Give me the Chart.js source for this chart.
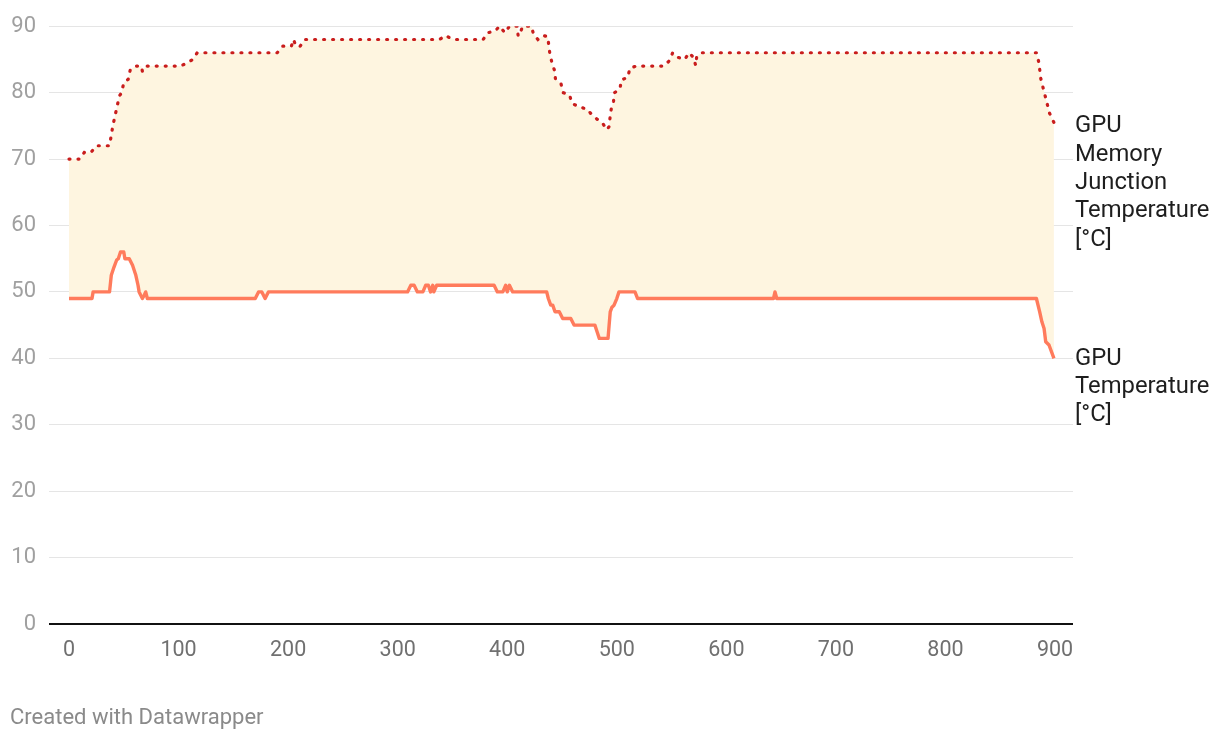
<!DOCTYPE html>
<html>
<head>
<meta charset="utf-8">
<script src="https://cdn.jsdelivr.net/npm/chart.js@4.4.1/dist/chart.umd.min.js"></script>
<style>
  html, body { margin: 0; padding: 0; background: #ffffff; }
  #wrap { position: relative; width: 1220px; height: 740px; }
  #credit { position: absolute; left: 10px; top: 703px; font-family: Roboto, sans-serif; font-size: 22px; line-height: 28px; color: #8a8a8a; }
</style>
</head>
<body>
<div id="wrap">
  <canvas id="c" width="1220" height="740"></canvas>
  <div id="credit">Created with Datawrapper</div>
</div>
<script>
// ---- data ----
const memTime = [0, 10, 14, 20, 25, 35, 37, 40, 42, 44, 46, 48, 50, 54, 56, 61, 66, 67, 70, 102, 108, 113, 117, 190, 195, 203, 205, 207, 211, 215, 338, 344, 347, 352, 378, 382, 389, 393, 398, 402, 409, 410, 412, 414, 422, 424, 428, 433, 437, 438, 439, 441, 443, 444, 449, 451, 457, 459, 465, 473, 477, 482, 487, 491, 493, 494, 495, 497, 498, 503, 504, 510, 512, 518, 543, 548, 551, 556, 562, 566, 570, 572, 573, 578, 883, 885, 886, 887, 889, 891, 893, 895, 899];
const memTemp = [70, 70, 71, 71, 72, 72, 72, 75, 76.5, 78, 79.5, 80, 81.5, 82, 83.5, 84, 84, 83.2, 84, 84, 84.5, 85, 86, 86, 87, 87, 88, 87, 87, 88, 88, 88.6, 88.3, 88, 88, 89, 89.3, 90, 89, 90, 90, 88.5, 89, 90, 90, 88.8, 88, 88.6, 88.4, 87, 85.7, 84.4, 83.4, 82.1, 81.4, 80, 79.6, 78.4, 77.9, 77.5, 76.7, 76, 75.4, 74.4, 74.9, 76.5, 77.6, 78.7, 80, 80.6, 81.9, 82.3, 83.7, 84, 84, 84.8, 86, 85.3, 85, 86, 85.3, 84.1, 85.5, 86, 86, 84.7, 83.5, 82.1, 80.8, 79.5, 78.2, 76.9, 75.5];

const gpuTime = [0, 21, 22, 37, 38.6, 41, 43.5, 45, 47, 50, 51, 55, 58, 61, 63, 64, 67, 68.7, 70, 71.5, 170, 173, 176, 179, 182, 309, 312, 315, 318, 323, 325.6, 328, 330, 332, 333, 335.6, 388, 391, 396, 398.6, 400, 402, 405, 436, 437.5, 439.7, 441.5, 443.6, 447.5, 450.6, 458, 461, 480, 482, 484, 492, 494, 495.6, 497.5, 500, 502, 516.6, 519, 643, 644.4, 646, 883, 886, 888, 890, 891.5, 894.5, 899];
const gpuTemp = [49, 49, 50, 50, 52.5, 53.7, 54.8, 55, 56, 56, 55, 55, 54, 52.5, 51, 50, 49, 49.5, 50, 49, 49, 50, 50, 49, 50, 50, 51, 51, 50, 50, 51, 51, 50, 51, 50, 51, 51, 50, 50, 51, 50, 51, 50, 50, 49, 48, 48, 47, 47, 46, 46, 45, 45, 44, 43, 43, 47, 47.7, 48, 49, 50, 50, 49, 49, 50, 49, 49, 47, 45.5, 44.5, 42.5, 42, 40];

const xTicks = [0, 100, 200, 300, 400, 500, 600, 700, 800, 900];
const yTicks = [0, 10, 20, 30, 40, 50, 60, 70, 80, 90];
const seriesNames = [["GPU", "Memory", "Junction", "Temperature", "[°C]"], ["GPU", "Temperature", "[°C]"]];

const toPts = (xs, ys) => xs.map((x, i) => ({ x: x, y: ys[i] }));

const endLabels = {
  id: 'endLabels',
  afterDatasetsDraw(chart) {
    const ctx = chart.ctx;
    const ys = chart.scales.y;
    ctx.save();
    ctx.font = '23.8px Roboto, sans-serif';
    ctx.fillStyle = '#1e1e1e';
    ctx.textAlign = 'left';
    ctx.textBaseline = 'middle';
    const lastVals = [memTemp[memTemp.length - 1], gpuTemp[gpuTemp.length - 1]];
    const shifts = [4, 0.5];
    seriesNames.forEach((lines, k) => {
      const y0 = ys.getPixelForValue(lastVals[k]) + shifts[k];
      lines.forEach((t, j) => ctx.fillText(t, 1075, y0 + j * 28.3));
    });
    ctx.restore();
  }
};

new Chart(document.getElementById('c'), {
  type: 'line',
  data: {
    datasets: [
      {
        label: 'GPU Memory Junction Temperature [°C]',
        data: toPts(memTime, memTemp),
        borderColor: '#c91d1d',
        borderWidth: 3.2,
        borderDash: [1, 8],
        borderCapStyle: 'round',
        pointRadius: 0,
        tension: 0,
        fill: '+1',
        backgroundColor: '#fef5e0'
      },
      {
        label: 'GPU Temperature [°C]',
        data: toPts(gpuTime, gpuTemp),
        borderColor: '#ff7b5c',
        borderWidth: 3.4,
        borderJoinStyle: 'round',
        pointRadius: 0,
        tension: 0,
        fill: false
      }
    ]
  },
  options: {
    responsive: false,
    animation: false,
    layout: { padding: { top: 22.5, right: 147, bottom: 0, left: 0 } },
    plugins: {
      legend: { display: false },
      tooltip: { enabled: false },
      filler: { drawTime: 'beforeDatasetsDraw' }
    },
    scales: {
      x: {
        type: 'linear',
        min: -18.26,
        max: 916.4,
        afterBuildTicks: s => { s.ticks = xTicks.map(v => ({ value: v })); },
        afterFit: s => { s.height = 116; },
        grid: { display: false, drawTicks: false },
        border: { display: false },
        ticks: { padding: 14, color: '#707070', font: { family: 'Roboto', size: 21.5 }, maxRotation: 0, autoSkip: false }
      },
      y: {
        min: 0,
        max: 90,
        afterBuildTicks: s => { s.ticks = yTicks.map(v => ({ value: v })); },
        afterFit: s => { s.width = 49; },
        grid: {
          drawTicks: false,
          color: c => (c.tick && c.tick.value === 0) ? '#111111' : '#e5e5e5',
          lineWidth: c => (c.tick && c.tick.value === 0) ? 2 : 1
        },
        border: { display: false },
        ticks: { padding: 13, color: '#a0a0a0', font: { family: 'Roboto', size: 22 } }
      }
    }
  },
  plugins: [endLabels]
});
</script>
</body>
</html>
